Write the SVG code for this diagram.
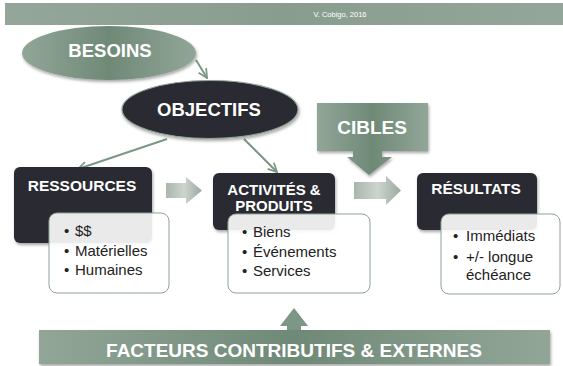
<svg xmlns="http://www.w3.org/2000/svg" width="563" height="366" viewBox="0 0 563 366">
<defs>
<style>
.t{font-family:"Liberation Sans",Arial,sans-serif;fill:#fff;font-weight:bold;text-anchor:middle}
.b{font-family:"Liberation Sans",Arial,sans-serif;fill:#222;font-size:15px}
.dark{fill:#2b2a33}
.wbox{fill:#fff;fill-opacity:0.9;stroke:#8fa295;stroke-width:1}
.con{stroke:#7d9685;stroke-width:2;fill:none;marker-end:url(#ah)}
</style>
<linearGradient id="gg" x1="0" y1="0" x2="1" y2="0">
<stop offset="0" stop-color="#92a697"/><stop offset="0.5" stop-color="#6f8977"/><stop offset="1" stop-color="#92a697"/>
</linearGradient>
<linearGradient id="ban" x1="0" y1="0" x2="1" y2="0">
<stop offset="0" stop-color="#94a699"/><stop offset="0.5" stop-color="#899d8e"/><stop offset="1" stop-color="#94a699"/>
</linearGradient>
<linearGradient id="ba" x1="0" y1="0" x2="1" y2="0">
<stop offset="0" stop-color="#a9b6ad"/><stop offset="0.5" stop-color="#cdd4cf"/><stop offset="1" stop-color="#9aaa9f"/>
</linearGradient>
<filter id="sh" x="-10%" y="-10%" width="125%" height="130%">
<feDropShadow dx="1" dy="2" stdDeviation="1.5" flood-color="#000" flood-opacity="0.35"/>
</filter>
<marker id="ah" viewBox="0 0 10 10" refX="9" refY="5" markerWidth="5.5" markerHeight="5.5" orient="auto" markerUnits="strokeWidth">
<path d="M1,1 L9,5 L1,9" fill="none" stroke="#7d9685" stroke-width="1.6"/>
</marker>
</defs>
<rect width="563" height="366" fill="#fff"/>
<g id="banner">
<rect x="5" y="3" width="558" height="22" fill="url(#ban)"/>
<text x="340" y="17" style="font-family:'Liberation Sans',Arial,sans-serif;font-size:7.5px;fill:#fff;text-anchor:middle">V. Cobigo, 2016</text>
</g>
<g id="connectors">
<path class="con" d="M196,60 L207,78"/>
<path class="con" d="M167,139 L78,169"/>
<path class="con" d="M244,139 L277,172"/>
</g>
<g id="besoins">
<ellipse cx="109" cy="53" rx="87" ry="27" fill="url(#gg)" filter="url(#sh)"/>
<text class="t" x="110" y="57" font-size="18.5">BESOINS</text>
</g>
<g id="objectifs">
<ellipse cx="210" cy="109.5" rx="88" ry="29" class="dark" stroke="#8fa295" stroke-width="1.2" filter="url(#sh)"/>
<text class="t" x="209" y="116" font-size="18.5">OBJECTIFS</text>
</g>
<g id="cibles">
<path d="M317,103 H428 V151 H382 V157 H392 L369,175 L347,157 H353 V151 H317 Z" fill="url(#gg)" filter="url(#sh)"/>
<text class="t" x="372" y="134" font-size="19">CIBLES</text>
</g>
<g id="arrow1">
<path d="M166,183 H186 V177 L202,190.5 L186,204 V198 H166 Z" fill="url(#ba)"/>
</g>
<g id="arrow2">
<path d="M354,182 H386 V176 L401,190.5 L386,205 V199 H354 Z" fill="url(#ba)"/>
</g>
<g id="ressources">
<rect x="14" y="167" width="138" height="76" rx="6" class="dark" filter="url(#sh)"/>
<text class="t" x="82" y="191" font-size="15.5">RESSOURCES</text>
<rect x="49" y="213" width="120" height="80" rx="8" class="wbox"/>
<text class="b" x="64" y="236">•<tspan x="75">$$</tspan></text>
<text class="b" x="64" y="256">•<tspan x="75">Matérielles</tspan></text>
<text class="b" x="64" y="275">•<tspan x="75">Humaines</tspan></text>
</g>
<g id="activites">
<rect x="213" y="173" width="122" height="57" rx="6" class="dark" filter="url(#sh)"/>
<text class="t" x="274" y="195" font-size="15">ACTIVITÉS &amp;</text>
<text class="t" x="274" y="211" font-size="15">PRODUITS</text>
<rect x="228" y="214" width="142" height="79" rx="8" class="wbox"/>
<text class="b" x="242" y="237">•<tspan x="253">Biens</tspan></text>
<text class="b" x="242" y="257">•<tspan x="253">Événements</tspan></text>
<text class="b" x="242" y="276">•<tspan x="253">Services</tspan></text>
</g>
<g id="resultats">
<rect x="417" y="173" width="120" height="57" rx="6" class="dark" filter="url(#sh)"/>
<text class="t" x="476" y="194" font-size="15.5">RÉSULTATS</text>
<rect x="441" y="214" width="119" height="80" rx="8" class="wbox"/>
<text class="b" x="453" y="241" font-size="17">•<tspan x="466">Immédiats</tspan></text>
<text class="b" x="453" y="262" font-size="17">•<tspan x="466">+/- longue</tspan></text>
<text class="b" x="466" y="280" font-size="17">échéance</text>
</g>
<g id="facteurs">
<path d="M287,330 V326 H280 L294,308 L308,326 H301 V330 Z" fill="#7d9685"/>
<rect x="39" y="330" width="511" height="34" fill="url(#gg)" filter="url(#sh)"/>
<text class="t" x="294" y="357" font-size="19">FACTEURS CONTRIBUTIFS &amp; EXTERNES</text>
</g>
</svg>
